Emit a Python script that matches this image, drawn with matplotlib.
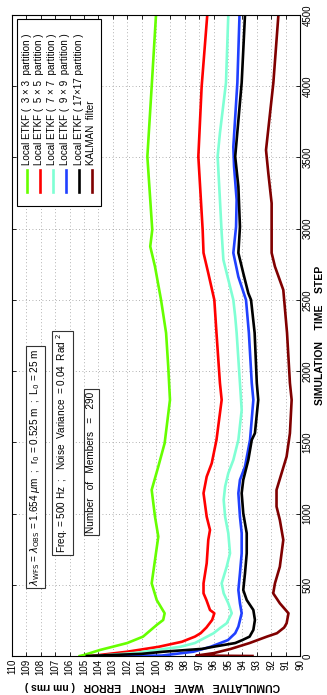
import matplotlib
matplotlib.use("Agg")
import matplotlib.pyplot as plt
from matplotlib.patches import Rectangle
from matplotlib.lines import Line2D

plt.rcParams['font.family'] = ['Liberation Sans', 'DejaVu Sans']

# ---------------- data (time step, cumulative wave front error nm rms) ----------------
green_steps = [0, 7, 42, 91, 136, 218, 253, 300, 393, 510, 674, 838, 978, 1166, 1330, 1494,
               1798, 2031, 2268, 2500, 2734, 2875, 2992, 3506, 3998, 4500]
green_err = [105.3, 105.0, 103.9, 102.0, 100.9, 99.95, 99.5, 99.4, 99.95, 100.3, 100.07, 99.84,
             100.07, 100.3, 99.84, 99.4, 99.03, 99.15, 99.3, 99.65, 100.07, 100.4, 100.26, 100.6,
             100.3, 100.0]

red_steps = [0, 30, 65, 100, 136, 160, 200, 253, 300, 323, 393, 440, 510, 651, 815, 885, 978,
             1143, 1259, 1353, 1517, 1798, 1916, 2268, 2500, 2688, 2830, 2992, 3506, 3998, 4500]
red_err = [104.5, 102.0, 99.8, 98.2, 97.3, 96.9, 96.5, 96.1, 95.95, 96.25, 96.5, 96.7, 96.7,
           96.48, 96.37, 96.25, 96.48, 96.7, 96.48, 96.13, 95.8, 95.44, 95.56, 95.8, 95.95,
           96.37, 96.7, 96.76, 97.06, 96.83, 96.44]

cyan_steps = [0, 23, 65, 91, 112, 160, 200, 230, 300, 370, 440, 510, 627, 721, 862, 978, 1096,
              1189, 1283, 1376, 1517, 1727, 1916, 2268, 2383, 2500, 2594, 2781, 2970, 3202,
              3506, 3672, 4024, 4500]
cyan_err = [104.2, 101.3, 98.3, 97.3, 96.9, 96.0, 95.5, 95.09, 94.74, 94.98, 95.3, 95.44,
            95.09, 94.86, 94.98, 95.2, 95.3, 95.2, 94.98, 94.63, 94.28, 94.05, 94.17, 94.4,
            94.5, 94.63, 94.86, 95.32, 95.44, 95.56, 95.72, 95.56, 95.14, 94.98]

blue_steps = [0, 3, 30, 65, 112, 160, 206, 300, 370, 463, 580, 721, 862, 978, 1143, 1236, 1330,
              1517, 1798, 1916, 2268, 2500, 2662, 2830, 3013, 3202, 3436, 3574, 4024, 4500]
blue_err = [103.5, 99.6, 97.4, 96.2, 95.0, 94.5, 94.28, 94.05, 94.17, 94.28, 94.17, 94.05,
            94.05, 94.17, 94.28, 94.17, 93.82, 93.47, 93.24, 93.35, 93.55, 93.75, 94.28, 94.63,
            94.44, 94.4, 94.58, 94.63, 94.35, 94.2]

black_steps = [0, 15, 30, 50, 65, 91, 112, 136, 183, 253, 323, 393, 463, 580, 721, 862, 1002,
               1143, 1236, 1376, 1517, 1564, 1798, 1916, 2268, 2500, 2547, 2688, 2830, 3013,
               3296, 3506, 4024, 4500]
black_err = [104.8, 101.0, 99.5, 96.8, 96.0, 94.5, 94.0, 93.5, 93.24, 93.13, 93.24, 93.7,
             93.94, 93.82, 93.7, 93.7, 93.94, 94.05, 93.94, 93.59, 93.35, 93.13, 92.9, 93.0,
             93.15, 93.4, 93.59, 93.94, 94.28, 94.17, 94.28, 94.5, 94.05, 93.82]

kalman_steps = [0, 3, 20, 50, 91, 136, 160, 200, 230, 300, 370, 440, 510, 627, 721, 815, 955,
                1049, 1166, 1283, 1400, 1564, 1798, 1916, 2268, 2570, 2734, 2830, 3179, 3389,
                3552, 4024, 4500]
kalman_err = [93.3, 97.2, 96.0, 94.8, 93.5, 92.3, 91.6, 91.1, 90.93, 90.8, 91.4, 91.86, 91.74,
              91.4, 91.28, 91.16, 91.4, 91.63, 91.63, 91.28, 90.93, 90.7, 90.58, 90.7, 90.9,
              91.16, 91.74, 91.97, 91.97, 92.2, 92.36, 91.85, 91.5]

labels = ["Local ETKF (  3 \u00d7 3  partition )",
          "Local ETKF (  5 \u00d7 5  partition )",
          "Local ETKF (  7 \u00d7 7  partition )",
          "Local ETKF (  9 \u00d7 9  partition )",
          "Local ETKF ( 17\u00d717 partition )",
          "KALMAN  filter"]
colors = ["#66ff00", "#ff0000", "#7fffd4", "#2040ff", "#000000", "#800000"]

err_ticks = list(range(90, 111))
step_ticks = list(range(0, 4501, 500))

# ---------------- figure ----------------
W, H = 327, 695
fig = plt.figure(figsize=(W / 100, H / 100), dpi=100)


def fx(px):
    return px / W


def fy(py):
    return 1 - py / H


ax_l, ax_r, ax_t, ax_b = 12, 300, 15, 656
ax = fig.add_axes([fx(ax_l), fy(ax_b), (ax_r - ax_l) / W, (ax_b - ax_t) / H])

series = [(green_steps, green_err), (red_steps, red_err), (cyan_steps, cyan_err),
          (blue_steps, blue_err), (black_steps, black_err), (kalman_steps, kalman_err)]
for (st, er), c in zip(series, colors):
    ax.plot(er, st, color=c, lw=1.9, solid_joinstyle='round')

ax.set_xlim(110, 90)
ax.set_ylim(0, 4500)
ax.set_xticks(err_ticks)
ax.set_xticklabels([str(v) for v in err_ticks], rotation=90, fontsize=7)
ax.set_yticks(step_ticks)
ax.set_yticklabels([str(v) for v in step_ticks], rotation=90, fontsize=7, va='center')
ax.yaxis.tick_right()
ax.tick_params(axis='both', direction='in', length=3, width=0.6,
               top=True, bottom=True, left=True, right=True, pad=2)
ax.tick_params(axis='y', labelleft=False, labelright=True)
ax.grid(True, ls=(0, (1, 3)), color='#999999', lw=0.6)
for s in ax.spines.values():
    s.set_linewidth(0.8)

# axis labels (rotated chart)
fig.text(fx(152), fy(686), "CUMULATIVE   WAVE   FRONT   ERROR   ( nm rms )", rotation=180,
         ha='center', va='center', fontsize=7.5, fontweight='bold')
fig.text(fx(320), fy(335), "SIMULATION    TIME    STEP", rotation=90,
         ha='center', va='center', fontsize=7.5, fontweight='bold')

# info boxes
box = dict(boxstyle='square,pad=0.25', fc='white', ec='#333333', lw=0.8)
ax.text(108.4, 1327,
        r"$\lambda_{\rm WFS}$ = $\lambda_{\rm OBS}$ = 1.654 $\mu$m  ;  r$_0$ = 0.525 m  ;  L$_0$ = 25 m",
        rotation=90, ha='center', va='center', fontsize=7.2, bbox=box)
ax.text(106.5, 1496, "Freq. = 500 Hz  ;   Noise  Variance  = 0.04  Rad $^2$",
        rotation=90, ha='center', va='center', fontsize=7.2, bbox=box)
ax.text(104.5, 1362, "Number   of   Members   =   290",
        rotation=90, ha='center', va='center', fontsize=7.2, bbox=box)

# legend (rotated) drawn manually
lg_l, lg_r, lg_t, lg_b = 17, 101, 19, 206
fig.patches.append(Rectangle((fx(lg_l), fy(lg_b)), (lg_r - lg_l) / W, (lg_b - lg_t) / H,
                             transform=fig.transFigure, fc='white', ec='black', lw=0.8,
                             zorder=5))
cols = [27, 39.5, 52.5, 65.5, 78.5, 91.5]
for cx, c, lab in zip(cols, colors, labels):
    fig.lines.append(Line2D([fx(cx), fx(cx)], [fy(192), fy(170)], transform=fig.transFigure,
                            color=c, lw=1.9, zorder=6))
    fig.text(fx(cx), fy(165), lab, rotation=90, ha='center', va='bottom', fontsize=7.1,
             zorder=7)

fig.savefig("out.png", dpi=100)
